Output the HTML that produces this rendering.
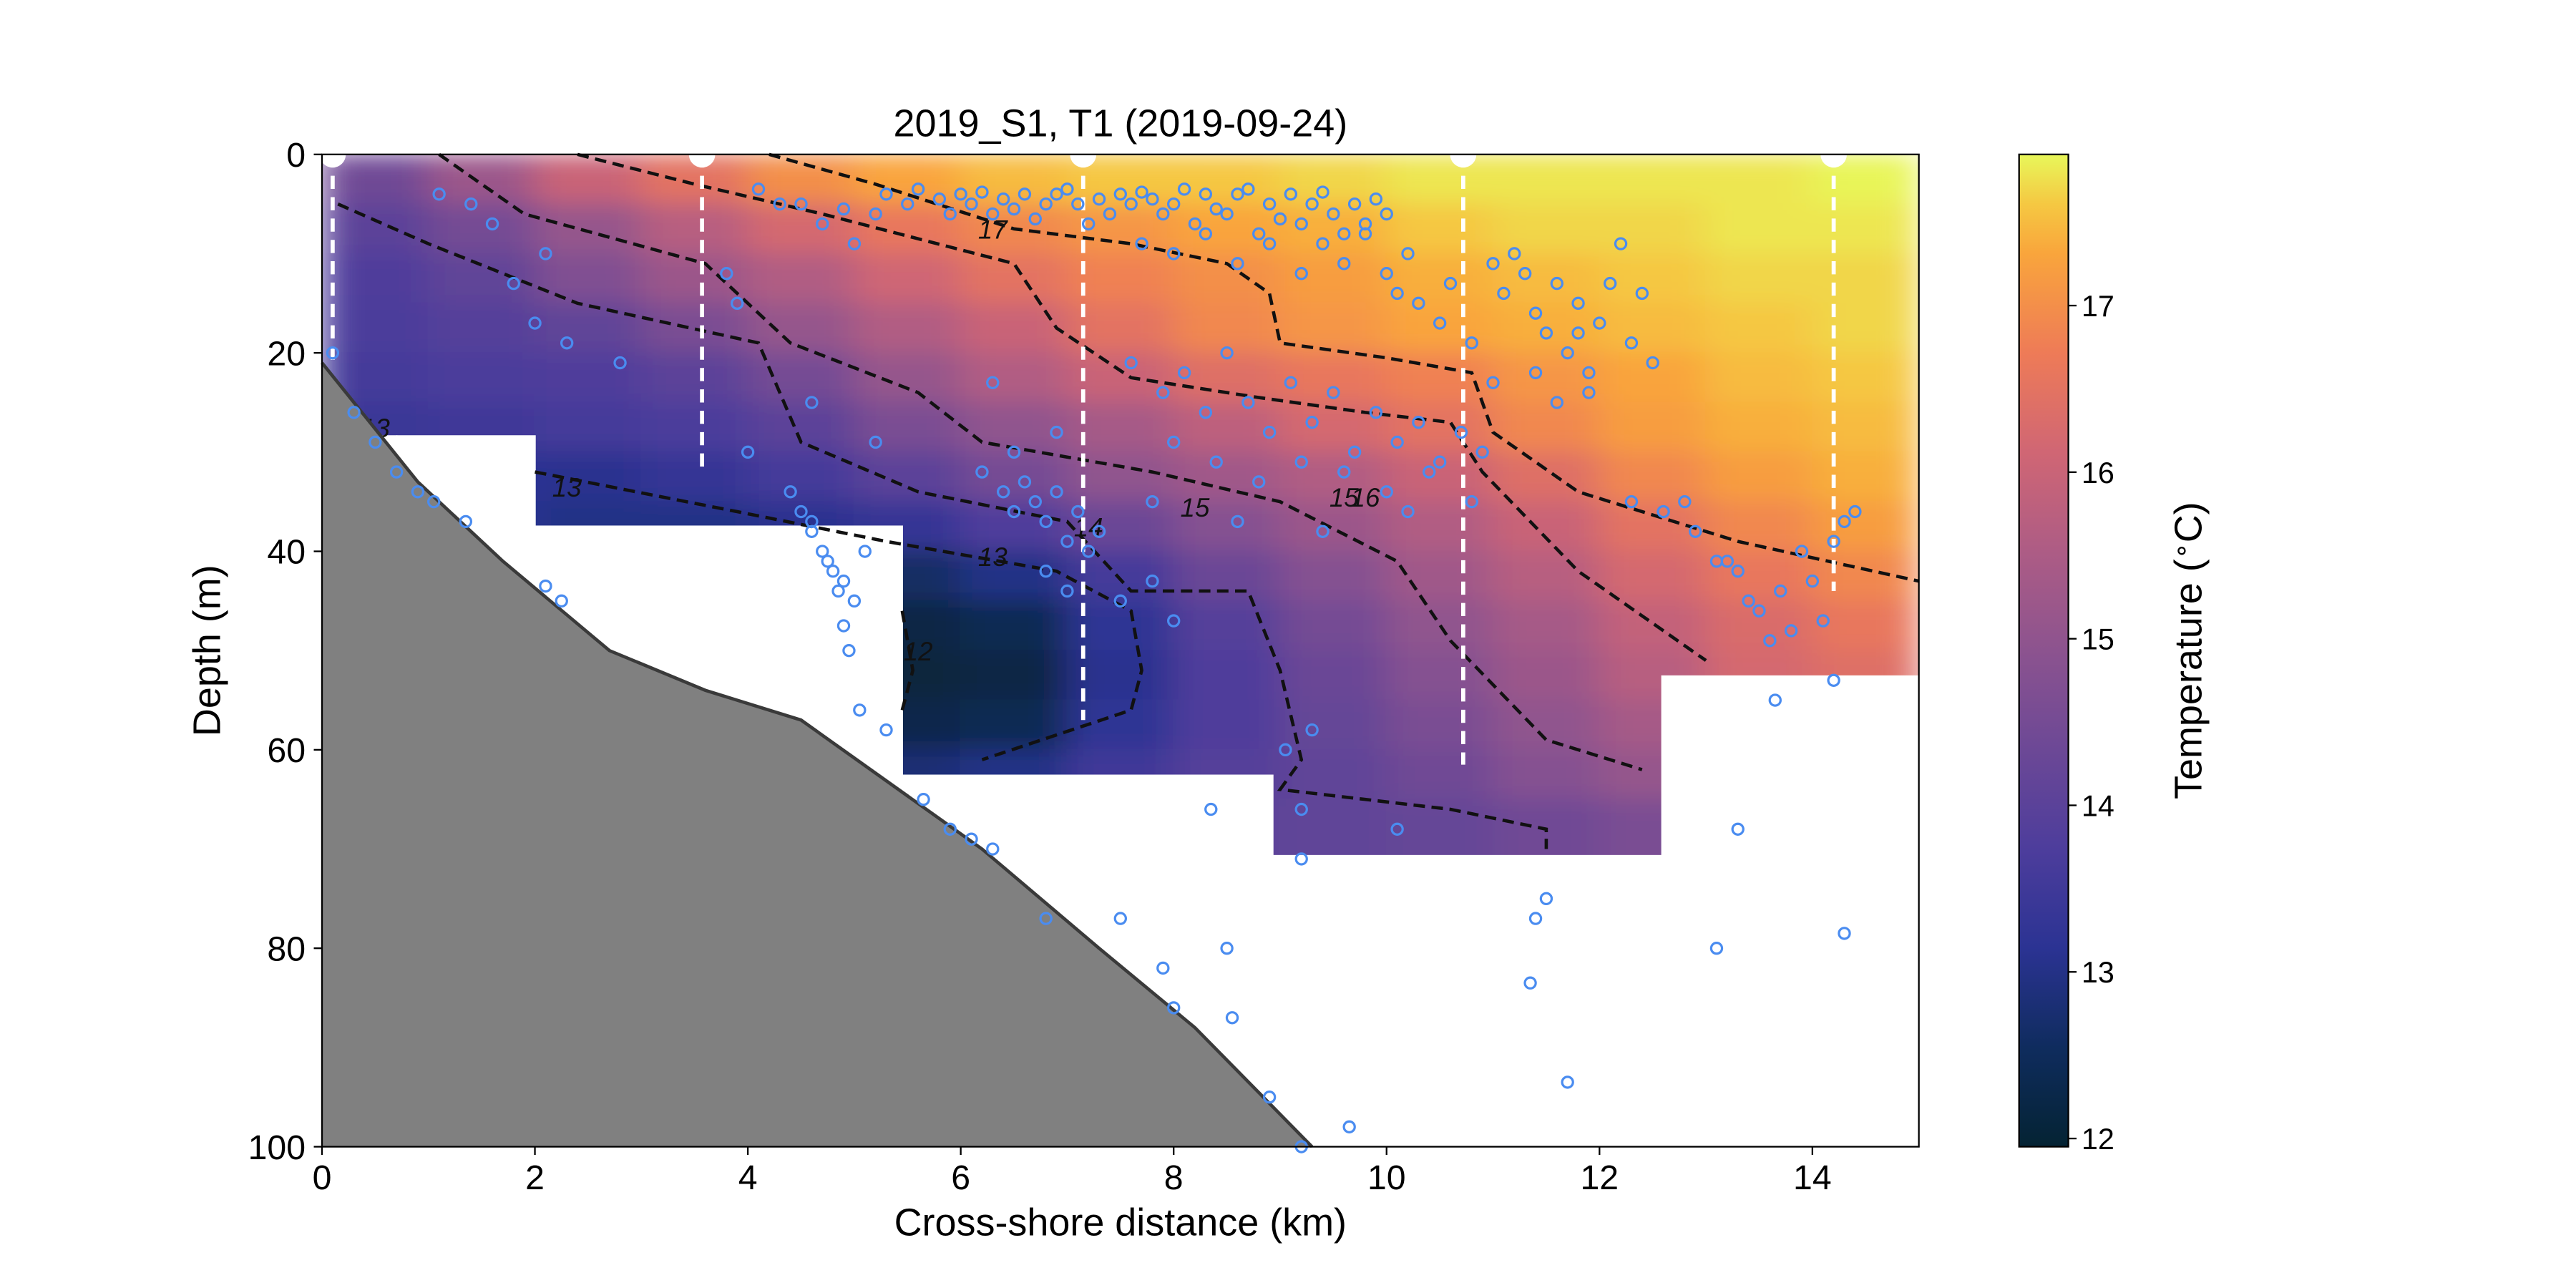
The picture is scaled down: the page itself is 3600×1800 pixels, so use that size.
<!DOCTYPE html>
<html><head><meta charset="utf-8"><style>
html,body{margin:0;padding:0;background:#fff;overflow:hidden;}
svg{display:block;font-family:"Liberation Sans","DejaVu Sans",sans-serif;}
</style></head><body>
<svg id="chart" width="3600" height="1800" viewBox="0 0 1568 784" preserveAspectRatio="none" xmlns="http://www.w3.org/2000/svg">
<defs>
<clipPath id="plotclip"><rect x="196" y="94" width="972" height="604"/></clipPath>
<filter id="smooth" filterUnits="userSpaceOnUse" x="196" y="94" width="972" height="453"><feGaussianBlur stdDeviation="11 7" edgeMode="duplicate"/></filter>
<linearGradient id="cbgrad" x1="0" y1="1" x2="0" y2="0">
<stop offset="0" stop-color="#042333"/><stop offset="0.1" stop-color="#0f2c5e"/><stop offset="0.2" stop-color="#2b3393"/>
<stop offset="0.3" stop-color="#4d3d9c"/><stop offset="0.4" stop-color="#6c4896"/><stop offset="0.5" stop-color="#8c538f"/>
<stop offset="0.6" stop-color="#ad5c85"/><stop offset="0.7" stop-color="#d06674"/><stop offset="0.8" stop-color="#ee7b57"/>
<stop offset="0.9" stop-color="#f9a53c"/><stop offset="0.95" stop-color="#f5c842"/><stop offset="1" stop-color="#e8f75a"/>
</linearGradient>
</defs>
<text x="682" y="83" font-size="23.5" text-anchor="middle">2019_S1, T1 (2019-09-24)</text>
<g clip-path="url(#plotclip)"><g id="heat" filter="url(#smooth)"></g></g>
<g id="masks"></g>
<g id="contours"></g>
<g id="bathy"></g>
<g id="casts"></g>
<g id="scatter"></g>
<rect x="196" y="94" width="972" height="604" fill="none" stroke="#000" stroke-width="1"/>
<g id="axes"></g>
<text x="682" y="752" font-size="23.5" text-anchor="middle">Cross-shore distance (km)</text>
<text transform="translate(134,396) rotate(-90)" font-size="23.5" text-anchor="middle">Depth (m)</text>
<rect x="1229" y="94" width="30" height="604" fill="url(#cbgrad)" stroke="#000" stroke-width="1"/>
<g id="cbaxis"></g>
<text transform="translate(1340,396) rotate(-90)" font-size="23.5" text-anchor="middle">Temperature (<tspan font-size="16" dy="-7">∘</tspan><tspan dy="7">C)</tspan></text>
</svg>
<script>
const xTicks=[0,2,4,6,8,10,12,14];
const yTicks=[0,20,40,60,80,100];
const cbTicks=[12,13,14,15,16,17];
const gridX=[0.5,1.5,2.5,3.5,4.5,5.5,6.5,7.5,8.5,9.5,10.5,11.5,12.5,13.5,14.5];
const gridZ=[2.5,7.5,12.5,17.5,22.5,27.5,32.5,37.5,42.5,47.5,52.5,57.5,62.5,67.5,72.5];
const tempRows=[
[14.4,15.2,16.0,16.5,17.0,17.3,17.5,17.6,17.6,17.7,17.8,17.8,17.8,17.8,17.9],
[14.0,14.5,15.1,15.7,16.2,16.6,16.9,17.1,17.3,17.4,17.6,17.7,17.7,17.8,17.8],
[13.8,14.1,14.7,15.2,15.6,16.1,16.5,16.8,17.0,17.2,17.4,17.5,17.6,17.7,17.7],
[13.7,13.9,14.1,14.6,15.1,15.6,16.0,16.5,16.9,17.1,17.3,17.4,17.5,17.6,17.7],
[13.6,13.7,13.8,14.0,14.5,15.1,15.6,16.0,16.4,16.6,16.8,17.1,17.3,17.5,17.6],
[13.4,13.5,13.6,13.7,14.0,14.6,15.0,15.4,15.8,16.2,16.5,16.9,17.2,17.4,17.5],
[13.2,13.2,13.1,13.3,13.6,14.0,14.5,15.0,15.3,15.6,16.0,16.4,16.9,17.2,17.4],
[13.2,13.2,13.0,13.0,13.1,13.3,13.8,14.3,14.8,15.2,15.6,16.0,16.5,16.9,17.2],
[13.0,13.0,13.0,13.0,12.9,12.6,13.0,13.6,14.3,14.8,15.3,15.7,16.2,16.6,16.9],
[13.0,13.0,13.0,13.0,12.8,12.2,12.4,13.2,13.9,14.5,15.0,15.4,15.9,16.3,16.6],
[13.0,13.0,13.0,13.0,12.8,12.1,12.2,13.1,13.8,14.3,14.8,15.2,15.7,16.2,16.4],
[13.0,13.0,13.0,13.0,12.9,12.3,12.4,13.2,13.8,14.2,14.6,15.0,15.4,15.8,16.2],
[13.0,13.0,13.0,13.0,13.0,12.8,13.0,13.5,13.9,14.1,14.4,14.8,15.1,15.5,15.9],
[13.0,13.0,13.0,13.0,13.2,13.5,13.7,13.9,14.0,14.1,14.2,14.4,14.6,14.9,15.2],
[13.0,13.0,13.0,13.0,13.2,13.5,13.7,13.9,14.0,14.1,14.2,14.4,14.6,14.9,15.2]];
const maskSegments=[[0,0.7,28.3],[0.7,2.0,28.3],[2.0,5.45,37.4],[5.45,8.93,62.5],[8.93,12.58,70.6],[12.58,15,52.5]];
const bathyKm=[0,0.9,1.7,2.7,3.6,4.5,6.2,7.3,8.2,9.3];
const bathyDepth=[21,33,41,50,54,57,70,80,88,100];
const castKm=[0.1,3.57,7.15,10.72,14.2];
const castDepth=[21,32,57,61.5,44];
const contour17=[[4.2,0],[5.2,3],[6.5,7.5],[7.6,9],[8.5,11],[8.9,14],[9.0,19],[10.0,20.5],[10.8,22],[11.0,28],[11.8,34],[13.3,39],[15,43]];
const contour16=[[2.4,0],[3.5,3],[4.7,6],[6.5,11],[6.9,17.5],[7.6,22.5],[8.8,24.5],[9.8,26],[10.6,27],[10.9,32],[11.8,42],[13,51]];
const contour15=[[1.1,0],[1.9,6],[3.6,11],[4.4,19],[5.6,24],[6.2,29],[7.8,32],[9.0,35],[10.1,41],[10.6,49],[11.5,59],[12.4,62]];
const contour14=[[0.15,5],[1.0,9],[2.4,15],[4.1,19],[4.5,29],[5.6,34],[7.0,37],[7.6,44],[8.7,44],[9.0,52],[9.2,61],[9.0,64],[10.6,66],[11.5,68],[11.5,70]];
const contour13=[[2.0,32],[3.9,36],[5.3,39],[6.9,42],[7.6,46],[7.7,52],[7.6,56],[6.2,61]];
const contour12=[[5.45,46],[5.55,52],[5.45,56]];
const contourSets=[contour17,contour16,contour15,contour14,contour13,contour12];
const contourLabels=["17","16","15","14","13","13","12","15","13"];
const labelKm=[6.3,9.8,8.2,7.2,2.3,6.3,5.6,9.6,0.5];
const labelDepth=[7.5,34.5,35.5,37.5,33.5,40.5,50,34.5,27.5];
const scatterX=[5.3,5.5,5.6,5.8,5.9,6.0,6.1,6.2,6.3,6.4,6.5,6.6,6.7,6.8,6.9,7.0,7.1,7.2,7.3,7.4,7.5,7.6,7.7,7.8,7.9,8.0,8.1,8.2,8.3,8.4,8.5,8.6,8.7,8.8,8.9,9.0,9.1,9.2,9.3,9.4,9.5,9.6,9.7,9.8,9.9,10.0,
7.7,8.0,8.3,8.6,8.9,9.2,9.4,9.6,9.8,10.0,10.2,
4.1,4.3,4.5,4.7,4.9,5.0,5.2,
10.1,10.3,10.5,10.6,10.8,11.0,11.1,11.3,11.4,11.5,11.6,11.7,11.8,11.9,12.0,12.1,12.3,12.5,11.2,11.6,11.9,12.2,12.4,11.0,11.4,11.8,
7.6,7.9,8.1,8.3,8.5,8.7,8.9,9.1,9.3,9.5,9.7,9.9,10.1,10.3,10.5,10.7,10.9,8.0,8.4,8.8,9.2,9.6,10.0,10.4,10.8,7.8,8.6,9.4,10.2,
6.2,6.4,6.5,6.6,6.7,6.8,6.9,7.0,7.1,7.2,7.3,6.5,6.8,7.0,7.5,7.8,8.0,6.3,6.9,
4.4,4.5,4.6,4.7,4.8,4.9,5.0,4.6,4.75,4.85,5.1,5.2,
12.3,12.6,12.9,13.1,13.3,13.5,13.7,13.9,14.1,14.3,13.2,13.6,14.0,14.2,12.8,13.4,13.8,14.4,
0.1,0.3,0.5,0.7,0.9,1.05,1.35,2.1,2.25,4.9,4.95,5.05,5.3,5.65,5.9,6.1,6.3,6.8,7.5,7.9,8.0,8.35,8.5,8.55,8.9,9.2,9.2,9.65,10.1,11.4,11.5,11.7,11.35,13.1,13.3,13.65,14.3,14.2,9.05,9.3,9.2,
1.1,1.4,1.6,1.8,2.0,2.1,2.3,2.8,3.8,3.9,4.0,4.6];
const scatterY=[4,5,3.5,4.5,6,4,5,3.8,6,4.5,5.5,4,6.5,5,4,3.5,5,7,4.5,6,4,5,3.8,4.5,6,5,3.5,7,4,5.5,6,4,3.5,8,5,6.5,4,7,5,3.8,6,8,5,7,4.5,6,
9,10,8,11,9,12,9,11,8,12,10,
3.5,5,5,7,5.5,9,6,
14,15,17,13,19,11,14,12,16,18,13,20,15,22,17,13,19,21,10,25,24,9,14,23,22,18,
21,24,22,26,20,25,28,23,27,24,30,26,29,27,31,28,30,29,31,33,31,32,34,32,35,35,37,38,36,
32,34,36,33,35,37,34,39,36,40,38,30,42,44,45,43,47,23,28,
34,36,38,40,42,43,45,37,41,44,40,29,
35,36,38,41,42,46,44,40,47,37,41,49,43,39,35,45,48,36,
20,26,29,32,34,35,37,43.5,45,47.5,50,56,58,65,68,69,70,77,77,82,86,66,80,87,95,71,100,98,68,77,75,93.5,83.5,80,68,55,78.5,53,60,58,66,
4,5,7,13,17,10,19,21,12,15,30,25];

const NS='http://www.w3.org/2000/svg';
const X=km=>196+km*64.8;
const Y=m=>94+m*6.04;
const CB=v=>693-(v-12)*101.4;
const stops=[[0,[4,35,51]],[0.1,[15,44,94]],[0.2,[43,51,147]],[0.3,[77,61,156]],[0.4,[108,72,150]],[0.5,[140,83,143]],[0.6,[173,92,133]],[0.7,[208,102,116]],[0.8,[238,123,87]],[0.9,[249,165,60]],[0.95,[245,200,66]],[1,[232,247,90]]];
function cmap(v){let t=(v-11.95)/(17.91-11.95);t=Math.max(0,Math.min(1,t));
 for(let i=1;i<stops.length;i++){if(t<=stops[i][0]){const a=stops[i-1],b=stops[i];const f=(t-a[0])/(b[0]-a[0]);
 const c=a[1].map((x,k)=>Math.round(x+(b[1][k]-x)*f));return `rgb(${c[0]},${c[1]},${c[2]})`;}}return 'rgb(232,247,90)';}
function mk(tag,attrs,parent){const e=document.createElementNS(NS,tag);for(const k in attrs)e.setAttribute(k,attrs[k]);parent.appendChild(e);return e;}

const heat=document.getElementById('heat');
gridZ.forEach((z,r)=>gridX.forEach((x,c)=>{
 const e=mk('rect',{x:X(x-0.5)-0.5,y:Y(z-2.5)-0.5,width:64.8+1,height:30.2+1,fill:cmap(tempRows[r][c])},heat);
 
 
}));
const masks=document.getElementById('masks');
maskSegments.forEach(s=>{
 const e=mk('rect',{x:X(s[0]),y:Y(s[2]),width:X(s[1])-X(s[0])+0.5,height:Y(100)-Y(s[2]),fill:'#fff'},masks);
 
 
});
const cont=document.getElementById('contours');
contourSets.forEach(cs=>{
 const e=mk('polyline',{points:cs.map(p=>X(p[0])+','+Y(p[1])).join(' '),fill:'none',stroke:'#111','stroke-width':2,'stroke-dasharray':'7,4'},cont);
 
 
});
contourLabels.forEach((l,i)=>{
 const t=mk('text',{x:X(labelKm[i]),y:Y(labelDepth[i])+6,'font-size':16,'font-style':'italic','text-anchor':'middle',fill:'#111'},cont);
 t.textContent=l;
 
 
});
const bathy=document.getElementById('bathy');
let pts=bathyKm.map((k,i)=>X(k)+','+Y(bathyDepth[i]));
const bp=mk('polygon',{points:[X(0)+','+Y(100)].concat(pts).join(' '),fill:'#808080'},bathy);


const bl=mk('polyline',{points:pts.join(' '),fill:'none',stroke:'#3a3a3a','stroke-width':2},bathy);


const casts=document.getElementById('casts');
castKm.forEach((k,i)=>{
 const l=mk('line',{x1:X(k),y1:Y(0),x2:X(k),y2:Y(castDepth[i]),stroke:'#fff','stroke-width':2.5,'stroke-dasharray':'8,5'},casts);
 
 
 const c=mk('circle',{cx:X(k),cy:Y(0),r:8,fill:'#fff'},casts);
 
 
});
const sc=document.getElementById('scatter');
scatterX.forEach((x,i)=>{
 const c=mk('circle',{cx:X(x),cy:Y(scatterY[i]),r:3.3,fill:'none',stroke:'#4a8cf0','stroke-width':1.4},sc);
 
 
});
const ax=document.getElementById('axes');
xTicks.forEach(v=>{
 const l=mk('line',{x1:X(v),y1:698,x2:X(v),y2:703,stroke:'#000','stroke-width':1},ax);
 
 
 const t=mk('text',{x:X(v),y:724,'font-size':21,'text-anchor':'middle'},ax);t.textContent=v;
 
 
});
yTicks.forEach(v=>{
 const l=mk('line',{x1:191,y1:Y(v),x2:196,y2:Y(v),stroke:'#000','stroke-width':1},ax);
 
 
 const t=mk('text',{x:186,y:Y(v)+7.5,'font-size':21,'text-anchor':'end'},ax);t.textContent=v;
 
 
});
const cba=document.getElementById('cbaxis');
cbTicks.forEach(v=>{
 const l=mk('line',{x1:1259,y1:CB(v),x2:1264,y2:CB(v),stroke:'#000','stroke-width':1},cba);
 
 
 const t=mk('text',{x:1267,y:CB(v)+6.5,'font-size':18},cba);t.textContent=v;
 
 
});
</script>
</body></html>
